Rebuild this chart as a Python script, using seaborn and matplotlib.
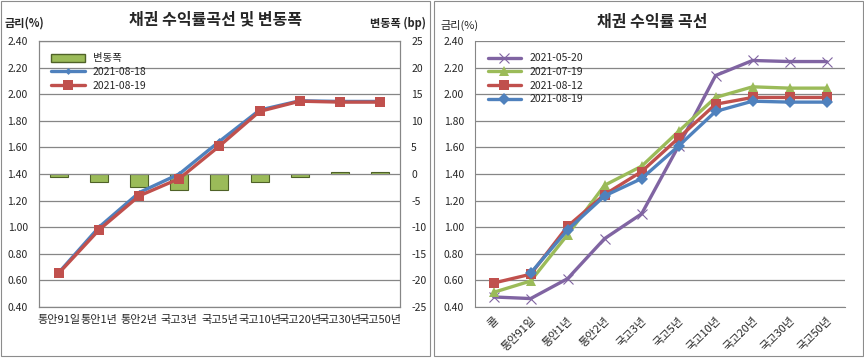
import numpy as np
import matplotlib
matplotlib.use("Agg")
import matplotlib.pyplot as plt
import seaborn as sns
from matplotlib.patches import Rectangle, Patch
from matplotlib.lines import Line2D

# --- data ---
tenors_left = ["통안91일", "통안1년", "통안2년", "국고3년", "국고5년",
               "국고10년", "국고20년", "국고30년", "국고50년"]
rate_0818 = [0.66, 1.00, 1.26, 1.40, 1.645, 1.88, 1.95, 1.945, 1.945]
rate_0819 = [0.655, 0.98, 1.235, 1.365, 1.61, 1.87, 1.947, 1.94, 1.94]
change_bp = [-0.5, -1.5, -2.4, -3.1, -3.0, -1.5, -0.5, 0.3, 0.3]

tenors_right = ["콜", "통안91일", "통안1년", "통안2년", "국고3년", "국고5년",
                "국고10년", "국고20년", "국고30년", "국고50년"]
curve_dates = ["2021-05-20", "2021-07-19", "2021-08-12", "2021-08-19"]
curve_0520 = [0.475, 0.463, 0.613, 0.914, 1.10, 1.61, 2.14, 2.253, 2.245, 2.245]
curve_0719 = [0.51, 0.595, 0.944, 1.315, 1.458, 1.72, 1.975, 2.055, 2.045, 2.045]
curve_0812 = [0.58, 0.646, 1.007, 1.245, 1.418, 1.67, 1.924, 1.975, 1.975, 1.975]
curve_0819 = [np.nan, 0.655, 0.98, 1.235, 1.365, 1.61, 1.87, 1.947, 1.94, 1.94]

sns.set_style("white")
plt.rcParams['font.family'] = ['Noto Sans CJK KR', 'DejaVu Sans']

BLUE, RED, GREEN, PURPLE = "#4F81BD", "#C0504D", "#9BBB59", "#8064A2"
GRID = "#868686"

fig = plt.figure(figsize=(8.64, 3.59), dpi=100)

# panel frames
for x0 in (0.001, 0.5025):
    fig.add_artist(Rectangle((x0, 0.008), 0.4965, 0.99, transform=fig.transFigure,
                             fill=False, edgecolor="#8c8c8c", linewidth=0.8))


def style_rate_axis(ax, n):
    ax.set_ylim(0.4, 2.4)
    ax.set_yticks(np.arange(0.4, 2.41, 0.2))
    ax.set_yticklabels([f"{v:.2f}" for v in np.arange(0.4, 2.41, 0.2)], fontsize=7.5)
    ax.yaxis.grid(True, color=GRID, linewidth=0.9)
    ax.set_axisbelow(True)
    ax.set_xlim(-0.5, n - 0.5)
    ax.set_xticks(np.arange(n))
    ax.set_xticks(np.arange(n + 1) - 0.5, minor=True)
    ax.tick_params(axis="x", which="major", length=0, pad=6)
    ax.tick_params(axis="x", which="minor", length=4, color=GRID)
    ax.tick_params(axis="y", length=0, pad=8)
    for s in ax.spines.values():
        s.set_color(GRID)
    ax.set_xlabel("")
    ax.set_ylabel("")


# ---------------- left chart ----------------
ax = fig.add_axes([0.045, 0.145, 0.418, 0.741])
ax2 = ax.twinx()
pos_l = np.arange(len(tenors_left))

sns.barplot(x=pos_l, y=change_bp, ax=ax2, native_scale=True, width=0.45,
            color=GREEN, edgecolor="#4F6228", linewidth=0.8, saturation=1)
ax2.set_ylim(-25, 25)
ax2.set_yticks(np.arange(-25, 26, 5))
ax2.set_yticklabels([str(v) for v in range(-25, 26, 5)], fontsize=7.5)
ax2.tick_params(axis="y", length=0, pad=8)
for s in ax2.spines.values():
    s.set_color(GRID)

sns.lineplot(x=pos_l, y=rate_0818, ax=ax, color=BLUE, linewidth=2.4,
             marker="D", markersize=3.5, markeredgewidth=0)
sns.lineplot(x=pos_l, y=rate_0819, ax=ax, color=RED, linewidth=2.4,
             marker="s", markersize=7, markeredgewidth=0)
style_rate_axis(ax, len(tenors_left))
ax.set_xticklabels(tenors_left, fontsize=8)
ax.set_zorder(ax2.get_zorder() + 1)
ax.patch.set_visible(False)

handles = [Patch(facecolor=GREEN, edgecolor="#4F6228", label="변동폭"),
           Line2D([], [], color=BLUE, lw=2.4, marker="D", ms=3.5, mew=0, label="2021-08-18"),
           Line2D([], [], color=RED, lw=2.4, marker="s", ms=7, mew=0, label="2021-08-19")]
ax.legend(handles=handles, loc="upper left", frameon=False, fontsize=7.5,
          handlelength=3.2, handleheight=0.9, borderaxespad=0.8, labelspacing=0.35)

fig.text(0.249, 0.945, "채권 수익률곡선 및 변동폭", ha="center", va="center",
         fontsize=11.5, fontweight="bold")
fig.text(0.005, 0.935, "금리(%)", ha="left", va="center", fontsize=8, fontweight="bold")
fig.text(0.493, 0.935, "변동폭 (bp)", ha="right", va="center", fontsize=8, fontweight="bold")

# ---------------- right chart ----------------
bx = fig.add_axes([0.55, 0.145, 0.428, 0.741])
pos_r = np.arange(len(tenors_right))
series = [(curve_0520, PURPLE, "x", 7), (curve_0719, GREEN, "^", 7),
          (curve_0812, RED, "s", 7), (curve_0819, BLUE, "D", 6)]
for date, (vals, col, mk, ms) in zip(curve_dates, series):
    sns.lineplot(x=pos_r, y=vals, ax=bx, color=col, linewidth=2.4, marker=mk,
                 markersize=ms, markeredgewidth=(0.8 if mk == "x" else 0),
                 markeredgecolor=col, label=date)
style_rate_axis(bx, len(tenors_right))
bx.set_xticklabels(tenors_right, fontsize=8, rotation=45, ha="right",
                   rotation_mode="anchor")
bx.spines["top"].set_visible(False)
bx.spines["right"].set_visible(False)
bx.legend(loc="upper left", frameon=False, fontsize=7.5, handlelength=3.2,
          borderaxespad=0.8, labelspacing=0.35)

fig.text(0.755, 0.94, "채권 수익률 곡선", ha="center", va="center",
         fontsize=11.5, fontweight="bold")
fig.text(0.510, 0.93, "금리(%)", ha="left", va="center", fontsize=8)

fig.savefig("out.png", dpi=100)
